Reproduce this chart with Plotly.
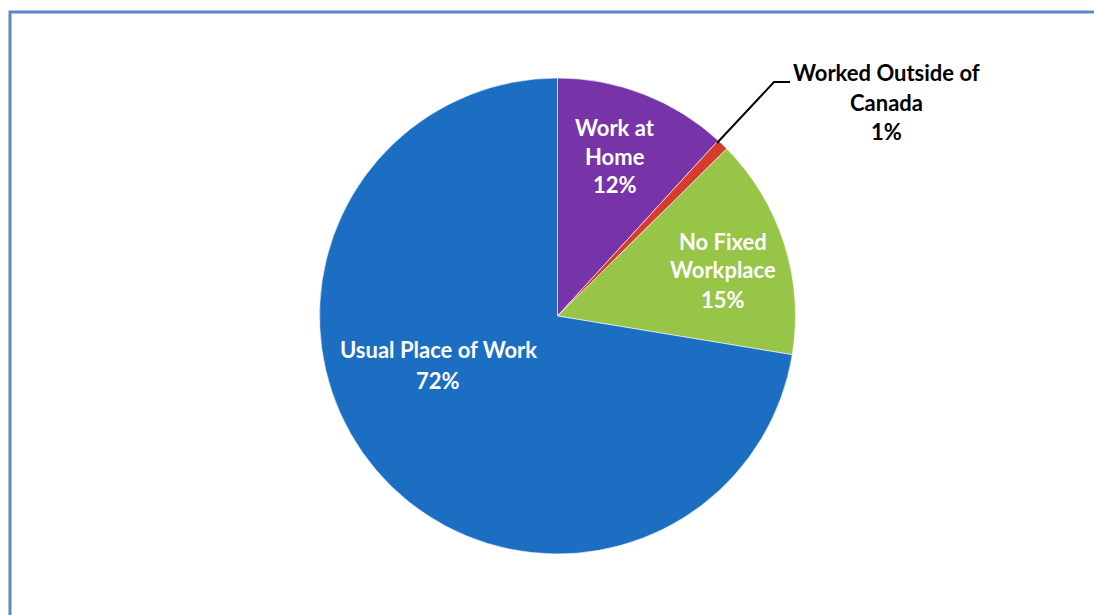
import plotly.graph_objects as go

W, H = 1094, 615

categories = ["Work at Home", "Worked Outside of Canada", "No Fixed Workplace", "Usual Place of Work"]
values = [11.8, 0.8, 15.0, 72.4]
colors = ["#7634A8", "#D83A2E", "#96C548", "#1B6EC2"]

# label lines (text) and their pixel anchor positions
label_lines = [
    (["Work at", "Home", "12%"], 615, [127, 156, 185], "white"),
    (["No Fixed", "Workplace", "15%"], 723, [241, 270, 299], "white"),
    (["Usual Place of Work", "72%"], 438, [349, 380], "white"),
    (["Worked Outside of", "Canada", "1%"], 886, [73, 102, 131], "black"),
]

def px(x):
    return x / W

def py(y):
    return 1 - y / H

cx, cy, r = 557.5, 316, 238

fig = go.Figure(go.Pie(
    labels=categories,
    values=values,
    sort=False,
    direction="clockwise",
    rotation=0,
    textinfo="none",
    hoverinfo="label+percent",
    marker=dict(colors=colors, line=dict(color="rgba(255,255,255,0.6)", width=1)),
    domain=dict(x=[px(cx - r), px(cx + r)], y=[py(cy + r), py(cy - r)]),
    showlegend=False,
))

annotations = []
for lines, x, ys, col in label_lines:
    for t, y in zip(lines, ys):
        annotations.append(dict(
            x=px(x), y=py(y), xref="paper", yref="paper",
            text="<b>" + t + "</b>", showarrow=False,
            xanchor="center", yanchor="middle",
            font=dict(family="Lato, 'Open Sans', sans-serif", size=22, color=col),
        ))

shapes = [
    dict(type="rect", xref="paper", yref="paper",
         x0=px(10), y0=py(625), x1=px(1104), y1=py(12),
         line=dict(color="#5A8AC6", width=3), fillcolor="rgba(0,0,0,0)"),
    dict(type="path", xref="paper", yref="paper",
         path=f"M {px(717)} {py(143)} L {px(774)} {py(82)} L {px(790)} {py(82)}",
         line=dict(color="black", width=2)),
]

fig.update_layout(
    width=W, height=H,
    margin=dict(l=0, r=0, t=0, b=0),
    paper_bgcolor="white",
    plot_bgcolor="white",
    annotations=annotations,
    shapes=shapes,
)

fig.write_html("out.html")
